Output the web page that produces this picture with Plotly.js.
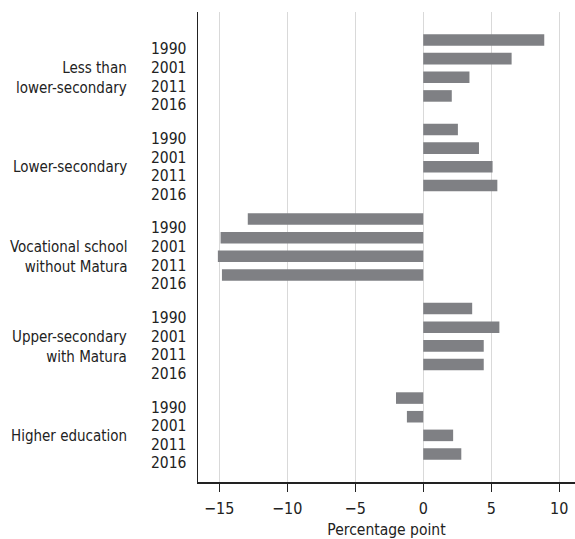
<!DOCTYPE html>
<html>
<head>
<meta charset="utf-8">
<script src="https://cdn.plot.ly/plotly-3.0.1.min.js"></script>
<style>html,body{margin:0;padding:0;background:#fff;}#chart{width:575px;height:539px;}</style>
</head>
<body>
<div id="chart"></div>
<script>
var groups = ["Less than<br>lower-secondary", "Lower-secondary", "Vocational school<br>without Matura", "Upper-secondary<br>with Matura", "Higher education"];
var years = ["1990", "2001", "2011", "2016"];
var lessThanLower = [8.9, 6.5, 3.4, 2.1];
var lowerSecondary = [2.55, 4.1, 5.1, 5.45];
var vocational = [-12.9, -14.9, -15.1, -14.8];
var upperSecondary = [3.6, 5.6, 4.45, 4.45];
var higherEducation = [-2.0, -1.2, 2.2, 2.8];
var xTicks = [-15, -10, -5, 0, 5, 10];

var series = [lessThanLower, lowerSecondary, vocational, upperSecondary, higherEducation];
var FONT = "'Liberation Sans Narrow', 'DejaVu Sans Condensed', 'Arial Narrow', sans-serif";
var GROUP_STEP = 4.8;

var yPos = [], xVals = [], tickText = [];
series.forEach(function (vals, g) {
  vals.forEach(function (v, i) {
    yPos.push(g * GROUP_STEP + i);
    xVals.push(v);
    tickText.push(years[i]);
  });
});

var annotations = groups.map(function (name, g) {
  return {
    text: name, xref: "paper", yref: "y",
    x: -0.184, y: g * GROUP_STEP + 1.5, xanchor: "right", yanchor: "middle",
    align: "right", showarrow: false, yshift: -10,
    font: {family: FONT, size: 15, color: "#222"}
  };
});

var trace = {
  type: "bar", orientation: "h", x: xVals, y: yPos, width: 0.62,
  marker: {color: "#7f8084", line: {width: 0}},
  hoverinfo: "x"
};

var layout = {
  width: 575, height: 539,
  margin: {l: 198, r: 0, t: 12, b: 57},
  paper_bgcolor: "#fff", plot_bgcolor: "#fff",
  showlegend: false,
  font: {family: FONT, size: 16, color: "#222"},
  xaxis: {
    range: [-16.56, 11.16], tickvals: xTicks, ticktext: xTicks.map(function (t) { return t < 0 ? "\u2212" + Math.abs(t) : String(t); }),
    showgrid: true, gridcolor: "#d9d9d9", gridwidth: 1, zeroline: false,
    showline: true, linecolor: "#222", linewidth: 1.5,
    ticks: "outside", ticklen: 8, tickcolor: "#222", ticklabelstandoff: 3,
    tickfont: {family: FONT, size: 16, color: "#222"},
    title: {text: "Percentage point", font: {family: FONT, size: 15.5, color: "#222"}, standoff: 8}
  },
  yaxis: {
    range: [4 * GROUP_STEP + 3 + 1.5, -1.5], tickvals: yPos, ticktext: tickText,
    showgrid: false, zeroline: false, showline: true, linecolor: "#222", linewidth: 1.5,
    ticks: "", ticklabelstandoff: 7, ticklabelshift: -9,
    tickfont: {family: FONT, size: 15.5, color: "#222"}
  },
  annotations: annotations
};

Plotly.newPlot("chart", [trace], layout, {displayModeBar: false, staticPlot: true});
</script>
</body>
</html>
